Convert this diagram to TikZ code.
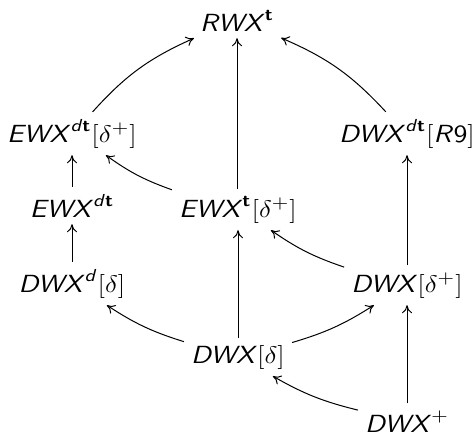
\documentclass[tikz,border=0pt]{standalone}
\usepackage{amsmath}
\usepackage{graphicx}
\usetikzlibrary{arrows.meta}
\newcommand\sfit[1]{\textsf{\textit{#1}}}
\newcommand\sfbt{\textsf{\textbf{t}}}
\newcommand\lbl[1]{\scalebox{1.14}[1]{#1}}
\begin{document}
\begin{tikzpicture}[x=0.5pt,y=-0.5pt,
  lab/.style={anchor=base,font=\fontsize{12.4}{15}\selectfont,inner sep=3.4pt},
  arr/.style={-{Computer Modern Rightarrow[length=4pt,width=5pt]},line width=0.5pt}]
\useasboundingbox (0,0) rectangle (474,434);
\node[lab] (rwx)    at (237,31)  {\lbl{$\sfit{RWX}^{\sfbt}$}};
\node[lab] (ewxdtd) at (72,142)  {\lbl{$\sfit{EWX}^{\sfit{d}\sfbt}[\delta^+]$}};
\node[lab] (dwxdtr) at (407,142) {\lbl{$\sfit{DWX}^{\sfit{d}\sfbt}[\sfit{R}\textsf{9}]$}};
\node[lab] (ewxdt)  at (72,217)  {\lbl{$\sfit{EWX}^{\sfit{d}\sfbt}$}};
\node[lab] (ewxtd)  at (238,217) {\lbl{$\sfit{EWX}^{\sfbt}[\delta^+]$}};
\node[lab] (dwxdd)  at (72,292)  {\lbl{$\sfit{DWX}^{\sfit{d}}[\delta]$}};
\node[lab] (dwxdp)  at (407,292) {\lbl{$\sfit{DWX}[\delta^+]$}};
\node[lab] (dwxd)   at (238,363) {\lbl{$\sfit{DWX}[\delta]$}};
\node[lab] (dwxp)   at (407,432) {\lbl{$\sfit{DWX}^+$}};
\draw[arr] (ewxdtd) to[bend left=12] (rwx);
\draw[arr] (ewxtd.north -| rwx) -- (rwx);
\draw[arr] (dwxdtr) to[bend right=12] (rwx);
\draw[arr] (ewxdt) -- (ewxdtd);
\draw[arr] (ewxtd) to[bend left=8] (ewxdtd);
\draw[arr] (dwxdd) -- (ewxdt);
\draw[arr] (dwxd) -- (ewxtd);
\draw[arr] (dwxdp) to[bend left=8] (ewxtd);
\draw[arr] (dwxdp) -- (dwxdtr);
\draw[arr] (dwxd) to[bend left=8] (dwxdd);
\draw[arr] (dwxd) to[bend right=8] (dwxdp);
\draw[arr] (dwxp) to[bend left=8] (dwxd);
\draw[arr] (dwxp) -- (dwxdp);
\end{tikzpicture}
\end{document}
